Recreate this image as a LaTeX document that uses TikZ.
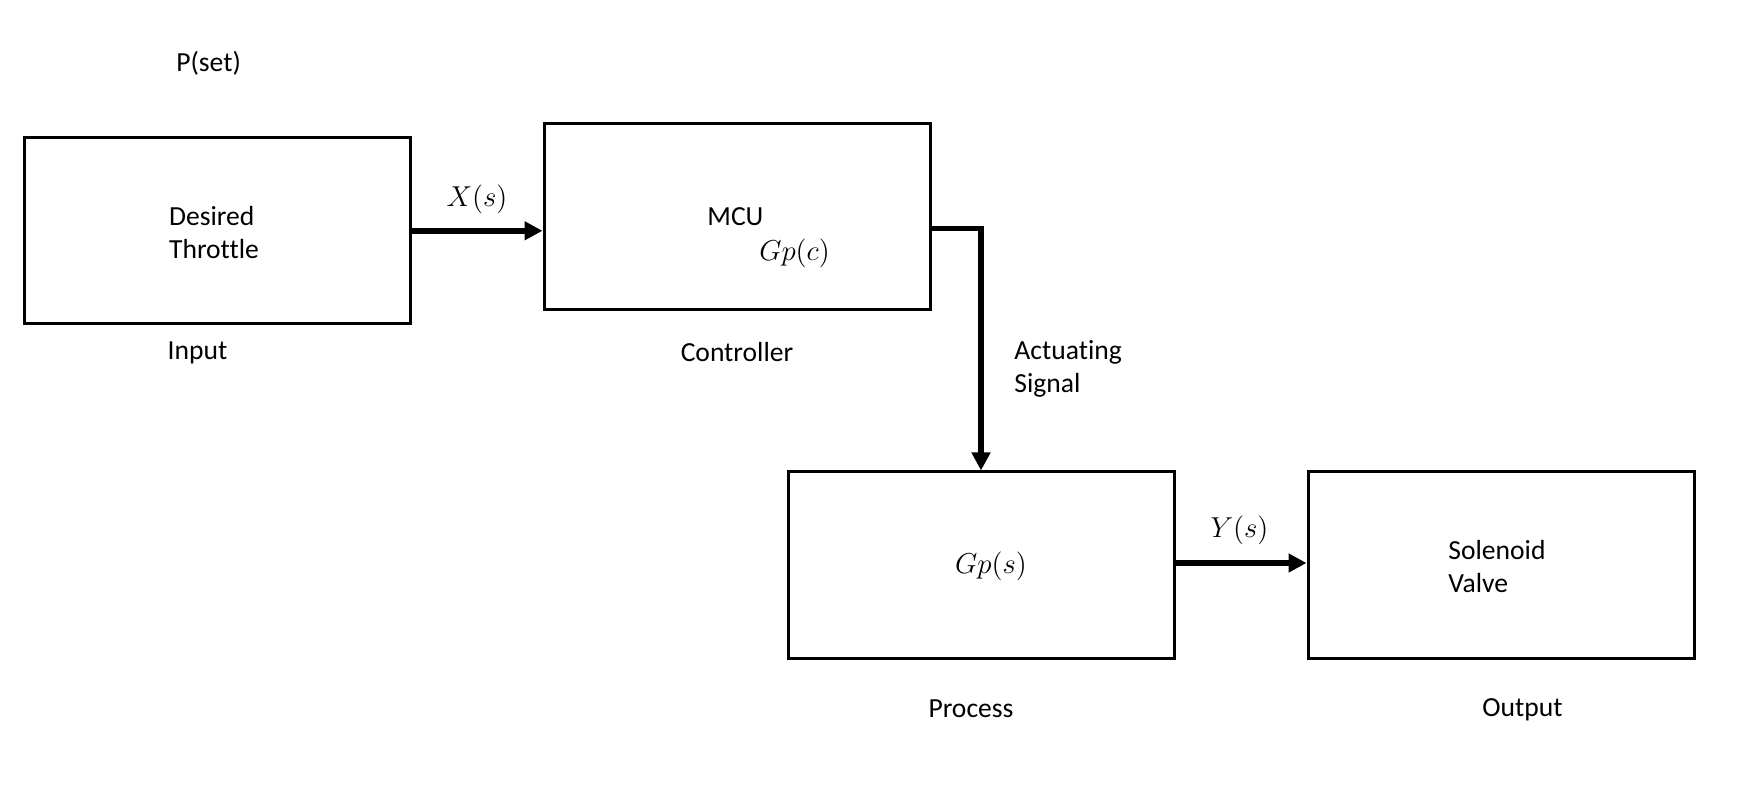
\documentclass[tikz,border=0pt]{standalone}
\usepackage{fontspec}
\setmainfont[Ligatures=NoCommon]{Carlito}
\usetikzlibrary{arrows.meta, positioning, calc}

\begin{document}
\begin{tikzpicture}[x=0.5pt, y=-0.5pt,
    blk/.style={draw, line width=1.5pt, minimum width=193pt, minimum height=93pt, inner sep=0pt, align=left},
    txt/.style={inner sep=0pt, font=\fontsize{13.8}{16.5}\selectfont},
    sig/.style={line width=2.8pt, -{Triangle[length=9pt, width=9pt]}}]
    \useasboundingbox (0,0) rectangle (1740,812);
    \node[txt] (pset) at (208.6,63) {P(set)};
    \node[blk] (b1) at (217.5,230.8) {};
    \node[blk] (b2) at (737,216.4) {};
    \node[blk] (b3) at (981,565) {};
    \node[blk] (b4) at (1501,565) {};
    \node[txt, align=left] (dt) at (214,233) {Desired\\Throttle};
    \node[txt, align=left] (sv) at (1497,567) {Solenoid\\Valve};
    \node[txt, anchor=west] (mcu) at (707,216.4) {MCU};
    \node[txt] (gpc) at (794.5,253) {$Gp(c)$};
    \node[txt] (gps) at (991,566) {$Gp(s)$};
    \node[txt] (inp) at (197.5,353) {Input};
    \node[txt] (ctl) at (737,352) {Controller};
    \node[txt] (prc) at (971,709) {Process};
    \node[txt] (out) at (1522.5,710) {Output};
    \node[txt, align=left, anchor=west] (act) at (1014,369) {Actuating\\Signal};
    \node[txt] (xs) at (477,199.5) {$X(s)$};
    \node[txt] (ys) at (1239.5,530) {$Y(s)$};
    % signal paths
    \draw[sig] (b1.east) -- (b2.west |- b1.east);
    \draw[sig] ([yshift=-6pt]b2.east) -| (b3.north);
    \draw[sig] ([yshift=1pt]b3.east) -- ([yshift=1pt]b4.west);
\end{tikzpicture}
\end{document}
